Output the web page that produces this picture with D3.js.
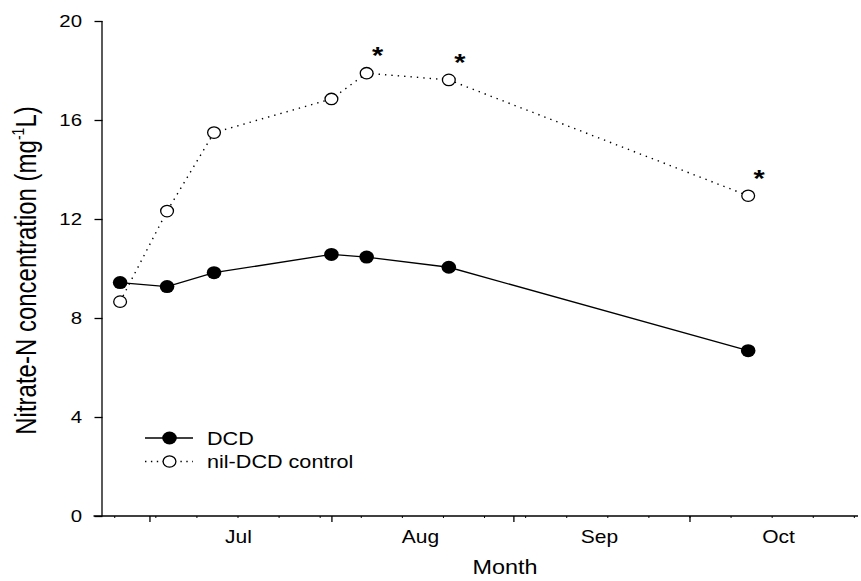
<!DOCTYPE html>
<html>
<head>
<meta charset="utf-8">
<script src="https://cdn.jsdelivr.net/npm/d3@7"></script>
<style>
  html, body { margin: 0; padding: 0; background: #fff; }
  svg { display: block; font-family: "Liberation Sans", Arial, sans-serif; }
</style>
</head>
<body>
<svg id="chart" width="861" height="581"></svg>
<script>
// ---- data ----
const sampleDates = ["2009-06-26", "2009-07-04", "2009-07-12", "2009-08-01", "2009-08-07", "2009-08-21", "2009-10-11"];
const dcdValues = [9.43, 9.27, 9.83, 10.57, 10.46, 10.05, 6.68];
const nilValues = [8.66, 12.32, 15.49, 16.85, 17.89, 17.62, 12.94];
const significant = [false, false, false, false, true, true, true];
const yTicks = [0, 4, 8, 12, 16, 20];
const monthLabels = ["Jul", "Aug", "Sep", "Oct"];
const seriesNames = ["DCD", "nil-DCD control"];

const SX = 1.2; // horizontal stretch of the original figure's text
const parse = d3.timeParse("%Y-%m-%d");
const dates = sampleDates.map(parse);

const svg = d3.select("#chart");

function label(parent, x, y, str, size, anchor, weight) {
  return parent.append("text")
    .attr("transform", `translate(${x},${y}) scale(${SX},1)`)
    .attr("text-anchor", anchor || "start")
    .attr("font-size", size)
    .attr("font-weight", weight || "normal")
    .attr("fill", "#000")
    .text(str);
}

const x = d3.scaleTime()
  .domain([new Date(2009, 5, 23, 0), new Date(2009, 9, 29, 17)])
  .range([102.5, 858]);
const y = d3.scaleLinear().domain([0, 20]).range([516, 21]);

// ---- y axis ----
const yAxis = d3.axisLeft(y).tickValues(yTicks).tickSize(8).tickFormat("");
const gy = svg.append("g").attr("transform", `translate(${x.range()[0]},0)`).call(yAxis);
gy.select(".domain").attr("d", `M-0.5,${y(20)}V${y(0)}`).attr("stroke", "#000").attr("stroke-width", 1.3);
gy.selectAll(".tick line").attr("stroke", "#000").attr("stroke-width", 1.3);
yTicks.forEach(t => {
  label(svg, 82, y(t) + 6, d3.format("d")(t), 17, "end");
});

// ---- x axis ----
const monthStarts = d3.timeMonth.range(new Date(2009, 6, 1), new Date(2009, 10, 1));
const gx = svg.append("g").attr("transform", `translate(0,${y(0)})`);
gx.append("line").attr("x1", x.range()[0] - 9).attr("x2", x.range()[1])
  .attr("y1", 0).attr("y2", 0).attr("stroke", "#000").attr("stroke-width", 1.3);
const majorAxis = d3.axisBottom(x).tickValues(monthStarts.filter(d => x(d) <= x.range()[1])).tickSize(6).tickFormat("");
const gMajor = gx.append("g").call(majorAxis);
gMajor.select(".domain").remove();
gMajor.selectAll(".tick line").attr("stroke", "#000").attr("stroke-width", 1.3);
const minorTicks = d3.timeThursday.range(x.domain()[0], x.domain()[1]);
const minorAxis = d3.axisBottom(x).tickValues(minorTicks).tickSize(2).tickFormat("");
const gMinor = gx.append("g").call(minorAxis);
gMinor.select(".domain").remove();
gMinor.selectAll(".tick line").attr("stroke", "#000").attr("stroke-width", 1);

// month labels at mid-month
monthStarts.slice(0, monthLabels.length).forEach((m, i) => {
  const next = d3.timeMonth.offset(m, 1);
  const mid = new Date((m.getTime() + next.getTime()) / 2);
  label(gx, x(mid) - 2, 26.5, monthLabels[i], 17.5, "middle");
});

// axis titles
label(svg, 505, 574, "Month", 19.5, "middle");

const yt = svg.append("text")
  .attr("transform", `translate(36,${(y(0) + y(20)) / 2 + 2}) scale(${SX},1) rotate(-90)`)
  .attr("text-anchor", "middle").attr("font-size", 24).attr("fill", "#000");
yt.append("tspan").text("Nitrate-N concentration (mg");
yt.append("tspan").attr("font-size", 14).attr("dy", -10).text("-1");
yt.append("tspan").attr("dy", 10).text("L)");

// ---- lines ----
const dcdData = dates.map((d, i) => ({ date: d, v: dcdValues[i] }));
const nilData = dates.map((d, i) => ({ date: d, v: nilValues[i], sig: significant[i] }));
const line = d3.line().x(d => x(d.date)).y(d => y(d.v));

svg.append("path").datum(nilData).attr("d", line)
  .attr("fill", "none").attr("stroke", "#000").attr("stroke-width", 1.4)
  .attr("stroke-dasharray", "1.4,5").attr("stroke-linecap", "butt");
svg.append("path").datum(dcdData).attr("d", line)
  .attr("fill", "none").attr("stroke", "#000").attr("stroke-width", 1.3);

svg.selectAll("ellipse.nil").data(nilData).join("ellipse").attr("class", "nil")
  .attr("cx", d => x(d.date)).attr("cy", d => y(d.v)).attr("rx", 6.4).attr("ry", 5.7)
  .attr("fill", "#fff").attr("stroke", "#000").attr("stroke-width", 1.3);
svg.selectAll("ellipse.dcd").data(dcdData).join("ellipse").attr("class", "dcd")
  .attr("cx", d => x(d.date)).attr("cy", d => y(d.v)).attr("rx", 7.3).attr("ry", 6.5)
  .attr("fill", "#000");

// significance stars
nilData.filter(d => d.sig).forEach(d => {
  label(svg, x(d.date) + 11, y(d.v) - 22.7 + 13.7, "*", 24, "middle", "bold");
});

// ---- legend ----
const lg = svg.append("g");
const legendRows = [
  { name: seriesNames[0], y: 438, dash: null, fill: "#000", rx: 7.3, ry: 6.5, sw: 0 },
  { name: seriesNames[1], y: 461.5, dash: "1.4,4.5", fill: "#fff", rx: 6.4, ry: 5.7, sw: 1.3 }
];
legendRows.forEach(r => {
  lg.append("line").attr("x1", 145).attr("x2", 193).attr("y1", r.y).attr("y2", r.y)
    .attr("stroke", "#000").attr("stroke-width", r.dash ? 1.4 : 1.3)
    .attr("stroke-dasharray", r.dash);
  lg.append("ellipse").attr("cx", 169.5).attr("cy", r.y).attr("rx", r.rx).attr("ry", r.ry)
    .attr("fill", r.fill).attr("stroke", "#000").attr("stroke-width", r.sw);
  label(lg, 207, r.y + 6.5, r.name, 18, "start");
});
</script>
</body>
</html>
